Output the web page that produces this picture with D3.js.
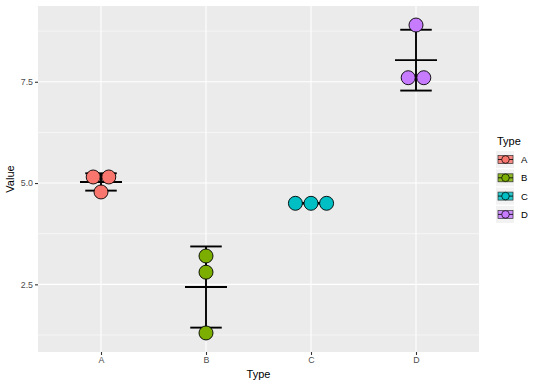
<!DOCTYPE html>
<html><head><meta charset="utf-8">
<script src="https://cdn.jsdelivr.net/npm/d3@7"></script>
<style>body{margin:0;background:#fff}svg{display:block}text{font-family:Arial,"Liberation Sans",sans-serif}</style>
</head><body><svg id="c" width="540" height="386"></svg>
<script>
const categories = ["A","B","C","D"];
const colors = ["#F8766D","#7CAE00","#00BFC4","#C77CFF"];
const valuesA = [5.15, 5.15, 4.78];
const valuesB = [3.2, 2.8, 1.3];
const valuesC = [4.5, 4.5, 4.5];
const valuesD = [8.9, 7.6, 7.6];
const seriesValues = [valuesA, valuesB, valuesC, valuesD];
const yTicks = [2.5, 5.0, 7.5];
const yMinor = [1.25, 3.75, 6.25, 8.75];
const yDomain = [0.83, 9.37];

const svg = d3.select("#c");
const P = {l:38, r:479, t:6, b:352};
const x = d3.scalePoint().domain(categories).range([P.l, P.r]).padding(0.6);
const y = d3.scaleLinear().domain(yDomain).range([P.b, P.t]);
const step = x.step();

svg.append("rect").attr("x",P.l).attr("y",P.t).attr("width",P.r-P.l).attr("height",P.b-P.t).attr("fill","#EBEBEB");
const g = svg.append("g");
yMinor.forEach(v=>g.append("line").attr("x1",P.l).attr("x2",P.r).attr("y1",y(v)).attr("y2",y(v)).attr("stroke","#fff").attr("stroke-width",0.55));
yTicks.forEach(v=>g.append("line").attr("x1",P.l).attr("x2",P.r).attr("y1",y(v)).attr("y2",y(v)).attr("stroke","#fff").attr("stroke-width",1.1));
categories.forEach(c=>g.append("line").attr("x1",x(c)).attr("x2",x(c)).attr("y1",P.t).attr("y2",P.b).attr("stroke","#fff").attr("stroke-width",1.1));

// axes
const ya = svg.append("g").attr("transform",`translate(${P.l},0)`).call(d3.axisLeft(y).tickValues(yTicks).tickFormat(d3.format(".1f")).tickSize(3).tickPadding(2));
const xa = svg.append("g").attr("transform",`translate(0,${P.b})`).call(d3.axisBottom(x).tickSize(3).tickPadding(2));
[ya,xa].forEach(a=>{a.select(".domain").remove();a.selectAll("line").attr("stroke","#333").attr("stroke-width",1.1);a.selectAll("text").attr("fill","#4D4D4D").attr("font-size",8.8).attr("font-family","Arial,'Liberation Sans',sans-serif");});

// errorbars (mean ± sd)
seriesValues.forEach((vals,i)=>{
  const cx = x(categories[i]);
  const m = d3.mean(vals), s = d3.deviation(vals);
  const eg = svg.append("g").attr("stroke","#000").attr("stroke-width",1.9);
  eg.append("line").attr("x1",cx).attr("x2",cx).attr("y1",y(m+s)).attr("y2",y(m-s));
  const hw = step*0.15;
  [m+s, m-s].forEach(v=>eg.append("line").attr("x1",cx-hw).attr("x2",cx+hw).attr("y1",y(v)).attr("y2",y(v)));
  const mw = step*0.2;
  eg.append("line").attr("x1",cx-mw).attr("x2",cx+mw).attr("y1",y(m)).attr("y2",y(m));
});

// dots, stacked centred like a dotplot
const dotD = 15.6;
seriesValues.forEach((vals,i)=>{
  const cx = x(categories[i]);
  const groups = d3.groups(vals, v=>v);
  groups.forEach(([v, arr])=>{
    const n = arr.length;
    arr.forEach((_,k)=>{
      const off = (k-(n-1)/2)*dotD;
      svg.append("circle").attr("cx",cx+off).attr("cy",y(v)).attr("r",7).attr("fill",colors[i]).attr("stroke","#000").attr("stroke-width",0.9);
    });
  });
});

// axis titles
svg.append("text").attr("x",(P.l+P.r)/2).attr("y",378).attr("text-anchor","middle").attr("font-size",11).attr("fill","#000").text("Type");
svg.append("text").attr("transform",`translate(14,${(P.t+P.b)/2}) rotate(-90)`).attr("text-anchor","middle").attr("font-size",11).attr("fill","#000").text("Value");

// legend
const L = svg.append("g");
L.append("text").attr("x",497).attr("y",145).attr("font-size",11).attr("fill","#000").text("Type");
categories.forEach((c,i)=>{
  const yc = 159.5 + i*18.3;
  const k = L.append("g");
  k.append("rect").attr("x",496).attr("y",yc-8.5).attr("width",18).attr("height",17).attr("fill","#F2F2F2");
  k.append("rect").attr("x",498).attr("y",yc-4).attr("width",15).attr("height",8).attr("fill",colors[i]).attr("stroke","#333").attr("stroke-width",0.7).attr("fill-opacity",0.85);
  k.append("line").attr("x1",498).attr("x2",513).attr("y1",yc).attr("y2",yc).attr("stroke","#000").attr("stroke-width",0.8);
  k.append("circle").attr("cx",505.5).attr("cy",yc).attr("r",3.8).attr("fill",colors[i]).attr("stroke","#000").attr("stroke-width",0.7);
  L.append("text").attr("x",521).attr("y",yc+3.4).attr("font-size",9.5).attr("fill","#000").text(c);
});
</script></body></html>
